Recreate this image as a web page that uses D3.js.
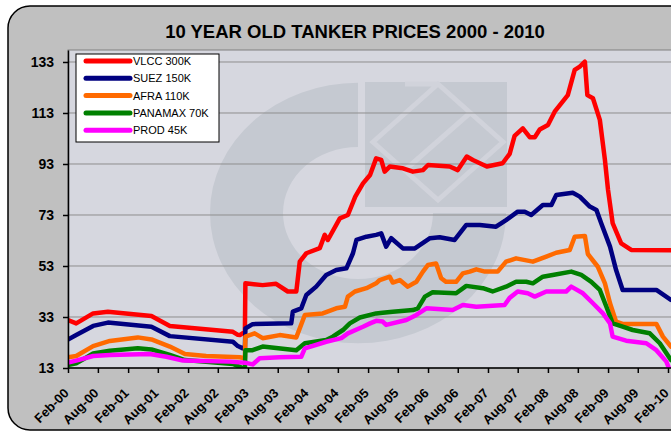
<!DOCTYPE html>
<html>
<head>
<meta charset="utf-8">
<script src="https://cdn.jsdelivr.net/npm/d3@7"></script>
<style>
  body { margin: 0; background: #fff; }
  svg text { font-family: Arial, "Liberation Sans", sans-serif; }
</style>
</head>
<body>
<div id="chart"></div>
<script>
const title = "10 YEAR OLD TANKER PRICES 2000 - 2010";
const seriesNames = ["VLCC 300K", "SUEZ 150K", "AFRA 110K", "PANAMAX 70K", "PROD 45K"];
const seriesColors = ["#ff0000", "#000080", "#ff6a00", "#008000", "#ff00ff"];
const yTicks = [13, 33, 53, 73, 93, 113, 133];
const xTickLabels = ["Feb-00", "Aug-00", "Feb-01", "Aug-01", "Feb-02", "Aug-02", "Feb-03", "Aug-03",
    "Feb-04", "Aug-04", "Feb-05", "Aug-05", "Feb-06", "Aug-06", "Feb-07", "Aug-07",
    "Feb-08", "Aug-08", "Feb-09", "Aug-09", "Feb-10"];

const vlccDates = [
    "2000-02-01", "2000-03-22", "2000-07-03", "2000-10-01", "2001-06-23", "2001-10-13", "2002-11-01", "2002-12-01", "2002-12-13", "2003-01-13",
    "2003-01-16", "2003-05-01", "2003-07-22", "2003-10-01", "2003-11-22", "2003-12-13", "2004-01-22", "2004-04-13", "2004-05-13", "2004-06-01",
    "2004-08-13", "2004-10-01", "2004-11-15", "2005-01-01", "2005-02-13", "2005-03-22", "2005-04-22", "2005-05-13", "2005-06-13", "2005-09-01",
    "2005-11-01", "2006-01-01", "2006-02-01", "2006-06-13", "2006-08-01", "2006-09-25", "2006-11-01", "2007-01-25", "2007-05-01", "2007-06-13",
    "2007-07-13", "2007-09-01", "2007-10-13", "2007-11-13", "2007-12-13", "2008-02-01", "2008-03-13", "2008-06-01", "2008-07-13", "2008-08-13",
    "2008-09-13", "2008-09-28", "2008-11-01", "2008-12-13", "2009-01-13", "2009-02-01", "2009-03-01", "2009-04-22", "2009-06-22", "2010-02-19"];
const vlccPrices = [
    31.8, 30.5, 34.4, 35.1, 33.4, 29.5, 27.2, 26.0, 25.9, 27.2,
    46.2, 45.5, 46.0, 43.0, 43.0, 54.7, 58.0, 60.0, 65.2, 63.2,
    71.7, 73.0, 80.2, 85.4, 88.7, 95.2, 94.6, 90.0, 92.0, 91.3,
    90.0, 90.6, 92.6, 92.0, 90.6, 95.9, 94.6, 92.0, 93.3, 97.0,
    104.0, 107.0, 103.5, 103.5, 106.5, 108.3, 113.5, 120.0, 129.9, 131.2,
    133.1, 120.0, 118.8, 110.3, 94.6, 82.8, 69.8, 61.9, 59.3, 59.2];

const suezDates = [
    "2000-02-01", "2000-03-22", "2000-07-03", "2000-10-01", "2001-06-23", "2001-10-13", "2002-11-01", "2002-12-01", "2003-01-01", "2003-01-13",
    "2003-01-16", "2003-03-01", "2003-10-22", "2003-11-01", "2003-12-22", "2004-01-22", "2004-03-22", "2004-05-22", "2004-07-22", "2004-09-22",
    "2004-11-01", "2004-11-22", "2005-01-22", "2005-03-22", "2005-04-22", "2005-05-22", "2005-06-22", "2005-09-01", "2005-11-13", "2006-02-13",
    "2006-04-13", "2006-07-13", "2006-09-22", "2006-12-13", "2007-03-22", "2007-05-22", "2007-08-01", "2007-09-13", "2007-10-22", "2008-01-01",
    "2008-02-22", "2008-03-22", "2008-07-01", "2008-08-13", "2008-10-13", "2008-11-22", "2008-12-22", "2009-02-13", "2009-03-22", "2009-05-01",
    "2009-11-22", "2010-02-19"];
const suezPrices = [
    24.2, 25.9, 29.5, 30.8, 29.2, 25.5, 23.3, 21.6, 20.7, 20.5,
    28.5, 30.2, 30.5, 35.1, 36.4, 41.6, 44.9, 49.5, 51.4, 52.1,
    58.0, 63.2, 64.5, 65.2, 65.8, 60.6, 63.9, 59.9, 59.9, 63.9,
    64.3, 63.2, 69.1, 69.1, 68.4, 71.0, 74.3, 74.3, 73.0, 76.9,
    76.9, 80.8, 81.7, 80.2, 76.3, 75.0, 69.7, 60.6, 51.4, 43.6,
    43.6, 39.7];

const afraDates = [
    "2000-02-01", "2000-03-22", "2000-07-03", "2000-10-13", "2001-04-01", "2001-06-23", "2001-10-13", "2002-01-13", "2002-05-22", "2002-12-13",
    "2003-01-13", "2003-01-16", "2003-03-13", "2003-05-01", "2003-08-13", "2003-11-22", "2004-01-13", "2004-05-01", "2004-07-22", "2004-09-13",
    "2004-10-01", "2004-11-13", "2005-01-22", "2005-03-22", "2005-04-13", "2005-06-13", "2005-07-01", "2005-08-13", "2005-10-01", "2005-11-22",
    "2006-01-01", "2006-02-01", "2006-03-22", "2006-04-22", "2006-05-22", "2006-07-22", "2006-09-01", "2006-10-13", "2006-11-22", "2007-01-13",
    "2007-04-01", "2007-05-22", "2007-07-22", "2007-11-01", "2008-01-22", "2008-03-22", "2008-06-13", "2008-07-13", "2008-09-13", "2008-10-01",
    "2008-12-01", "2009-01-13", "2009-02-13", "2009-03-22", "2009-05-01", "2009-11-22", "2010-01-01", "2010-02-19"];
const afraPrices = [
    17.2, 17.7, 21.6, 23.6, 25.0, 24.2, 21.4, 18.5, 17.7, 17.2,
    16.8, 25.3, 26.6, 24.7, 25.9, 25.0, 33.8, 34.4, 36.4, 37.0,
    41.0, 43.0, 44.3, 46.2, 47.5, 48.8, 46.5, 47.5, 44.9, 46.8,
    50.8, 53.4, 54.0, 48.2, 46.8, 46.8, 50.1, 50.8, 51.7, 50.8,
    50.8, 54.7, 56.0, 54.7, 56.7, 58.2, 59.3, 64.5, 64.8, 57.7,
    52.7, 46.2, 38.4, 31.2, 30.3, 30.3, 25.3, 21.4];

const panamaxDates = [
    "2000-02-01", "2000-03-22", "2000-07-03", "2000-10-13", "2001-04-01", "2001-06-23", "2001-10-13", "2002-01-13", "2002-11-01", "2002-12-13",
    "2003-01-13", "2003-01-16", "2003-03-01", "2003-05-01", "2003-11-22", "2004-01-13", "2004-05-22", "2004-07-01", "2004-09-01", "2004-10-13",
    "2004-12-13", "2005-03-22", "2005-05-01", "2005-07-01", "2005-11-01", "2005-12-01", "2006-01-13", "2006-03-01", "2006-07-22", "2006-09-22",
    "2007-01-01", "2007-03-01", "2007-05-22", "2007-07-22", "2007-09-22", "2007-11-01", "2008-01-01", "2008-03-01", "2008-06-22", "2008-08-22",
    "2008-10-22", "2008-12-13", "2009-01-22", "2009-03-01", "2009-05-01", "2009-07-01", "2009-10-13", "2009-12-13", "2010-02-19"];
const panamaxPrices = [
    14.2, 14.8, 18.7, 19.8, 20.7, 20.3, 18.1, 16.1, 14.6, 13.5,
    12.2, 20.0, 20.0, 21.4, 20.0, 22.7, 24.0, 25.3, 27.9, 30.5,
    32.8, 34.4, 34.7, 35.1, 35.7, 36.4, 41.0, 42.7, 42.3, 45.2,
    44.3, 43.0, 44.9, 46.8, 46.8, 46.2, 48.8, 49.5, 50.8, 49.5,
    46.8, 43.6, 37.0, 30.5, 29.2, 27.9, 26.6, 22.7, 16.1];

const prodDates = [
    "2000-02-01", "2000-03-22", "2000-07-03", "2000-10-13", "2001-06-13", "2001-09-22", "2002-01-01", "2002-10-13", "2003-01-13", "2003-03-01",
    "2003-04-13", "2003-08-13", "2003-12-22", "2004-01-13", "2004-05-22", "2004-08-22", "2004-10-01", "2005-01-01", "2005-02-13", "2005-03-22",
    "2005-05-01", "2005-05-22", "2005-09-22", "2005-11-22", "2006-01-22", "2006-07-01", "2006-09-01", "2006-11-22", "2007-05-13", "2007-06-13",
    "2007-08-01", "2007-10-01", "2007-11-13", "2008-01-22", "2008-05-22", "2008-06-22", "2008-09-01", "2008-11-01", "2009-01-01", "2009-02-13",
    "2009-03-01", "2009-05-22", "2009-09-22", "2009-11-22", "2010-01-22", "2010-02-19"];
const prodPrices = [
    15.1, 15.9, 17.7, 18.1, 18.5, 17.4, 15.9, 15.5, 15.1, 14.4,
    16.8, 17.2, 17.4, 20.7, 23.3, 24.7, 26.6, 29.2, 30.5, 31.5,
    31.2, 29.9, 31.8, 33.8, 36.4, 35.7, 37.7, 37.0, 37.7, 40.5,
    43.0, 42.3, 41.0, 43.0, 43.0, 44.9, 42.3, 38.4, 34.4, 30.5,
    25.3, 23.7, 22.7, 20.0, 15.5, 11.0];

const parseDate = d3.timeParse("%Y-%m-%d");
const parseTick = d3.timeParse("%b-%y");

const seriesDates = [vlccDates, suezDates, afraDates, panamaxDates, prodDates];
const seriesPrices = [vlccPrices, suezPrices, afraPrices, panamaxPrices, prodPrices];
const series = seriesNames.map(function (name, i) {
    return {
        name: name,
        color: seriesColors[i],
        points: seriesDates[i].map(function (d, j) { return { date: parseDate(d), value: seriesPrices[i][j] }; })
    };
});

function DrawChart() {
    var W = 671, H = 434;
    var plot = { left: 68, top: 50, right: 680, bottom: 368 };

    var svg = d3.select("#chart").append("svg")
        .attr("width", W)
        .attr("height", H);

    // outer chart area
    svg.append("rect")
        .attr("x", 8).attr("y", 6)
        .attr("width", 720).attr("height", 424)
        .attr("rx", 22).attr("ry", 22)
        .attr("fill", "#c0c0c0")
        .attr("stroke", "#000")
        .attr("stroke-width", 1.5);

    svg.append("text")
        .attr("x", 355).attr("y", 38)
        .attr("text-anchor", "middle")
        .attr("font-size", "18.5px")
        .attr("font-weight", "bold")
        .text(title);

    var xScale = d3.scaleTime()
        .domain([parseTick(xTickLabels[0]), parseTick(xTickLabels[xTickLabels.length - 1])])
        .range([68, 668]);
    var yScale = d3.scaleLinear().domain([13, 137.7]).range([plot.bottom, plot.top]);

    svg.append("defs").append("clipPath").attr("id", "clip")
        .append("rect")
        .attr("x", plot.left).attr("y", plot.top)
        .attr("width", plot.right - plot.left).attr("height", plot.bottom - plot.top);

    svg.append("rect")
        .attr("x", plot.left).attr("y", plot.top)
        .attr("width", plot.right - plot.left).attr("height", plot.bottom - plot.top)
        .attr("fill", "#d6d7df")
        .attr("stroke", "#808080");

    // faint logo watermark
    var wm = svg.append("g").attr("clip-path", "url(#clip)");
    var wmColor = "#c5c9d1", wmLight = "#d1d3db";
    wm.append("path")
        .attr("transform", "translate(358,213) scale(1,0.88)")
        .attr("d", d3.arc().innerRadius(75).outerRadius(148).startAngle(Math.PI * 0.5).endAngle(Math.PI * 2)())
        .attr("fill", wmColor);
    wm.append("rect")
        .attr("x", 365).attr("y", 82).attr("width", 142).attr("height", 125)
        .attr("fill", wmColor);
    wm.append("path")
        .attr("d", "M373,142 L438,84 L503,142 L438,200 Z M438,84 L405,84 M470,113 L405,170")
        .attr("fill", "none")
        .attr("stroke", wmLight)
        .attr("stroke-width", 5);

    // gridlines
    svg.append("g").selectAll("line")
        .data(yTicks.slice(1))
        .enter().append("line")
        .attr("x1", plot.left).attr("x2", plot.right)
        .attr("y1", function (d) { return yScale(d); })
        .attr("y2", function (d) { return yScale(d); })
        .attr("stroke", "#8e8e8e")
        .attr("stroke-width", 1);

    // series
    var line = d3.line()
        .x(function (d) { return xScale(d.date); })
        .y(function (d) { return yScale(d.value); });

    svg.append("g").attr("clip-path", "url(#clip)")
        .selectAll("path")
        .data(series)
        .enter().append("path")
        .attr("d", function (d) { return line(d.points); })
        .attr("fill", "none")
        .attr("stroke", function (d) { return d.color; })
        .attr("stroke-width", 4.5)
        .attr("stroke-linejoin", "round")
        .attr("stroke-linecap", "round");

    // axes
    var yAxis = svg.append("g")
        .attr("transform", "translate(" + plot.left + ",0)")
        .call(d3.axisLeft(yScale).tickValues(yTicks).tickSize(5).tickSizeOuter(0).tickPadding(9));
    yAxis.selectAll("text")
        .attr("font-size", "14px")
        .attr("font-weight", "bold")
        .attr("fill", "#000");

    var xAxis = svg.append("g")
        .attr("transform", "translate(0," + plot.bottom + ")")
        .call(d3.axisBottom(xScale)
            .tickValues(xTickLabels.map(parseTick))
            .tickFormat(d3.timeFormat("%b-%y"))
            .tickSize(5).tickSizeOuter(0));
    xAxis.select(".domain").attr("d", "M" + plot.left + ",0H" + plot.right);
    xAxis.selectAll("text")
        .attr("x", 0).attr("y", 0).attr("dy", null)
        .attr("transform", "translate(1,26) rotate(-45)")
        .style("text-anchor", "end")
        .attr("font-size", "13px")
        .attr("font-weight", "bold")
        .attr("fill", "#000");
    svg.selectAll(".domain, .tick line").attr("stroke", "#000").attr("stroke-width", 1.5);

    // legend
    var legend = svg.append("g");
    legend.append("rect")
        .attr("x", 76).attr("y", 54)
        .attr("width", 143).attr("height", 88)
        .attr("fill", "#fff")
        .attr("stroke", "#000");
    var rows = legend.selectAll(".row")
        .data(series)
        .enter().append("g")
        .attr("transform", function (d, i) { return "translate(0," + (61 + i * 17.3) + ")"; });
    rows.append("line")
        .attr("x1", 86).attr("x2", 130)
        .attr("stroke", function (d) { return d.color; })
        .attr("stroke-width", 5)
        .attr("stroke-linecap", "round");
    rows.append("text")
        .attr("x", 133).attr("dy", "0.36em")
        .attr("font-size", "11px")
        .text(function (d) { return d.name; });
}

DrawChart();
</script>
</body>
</html>
